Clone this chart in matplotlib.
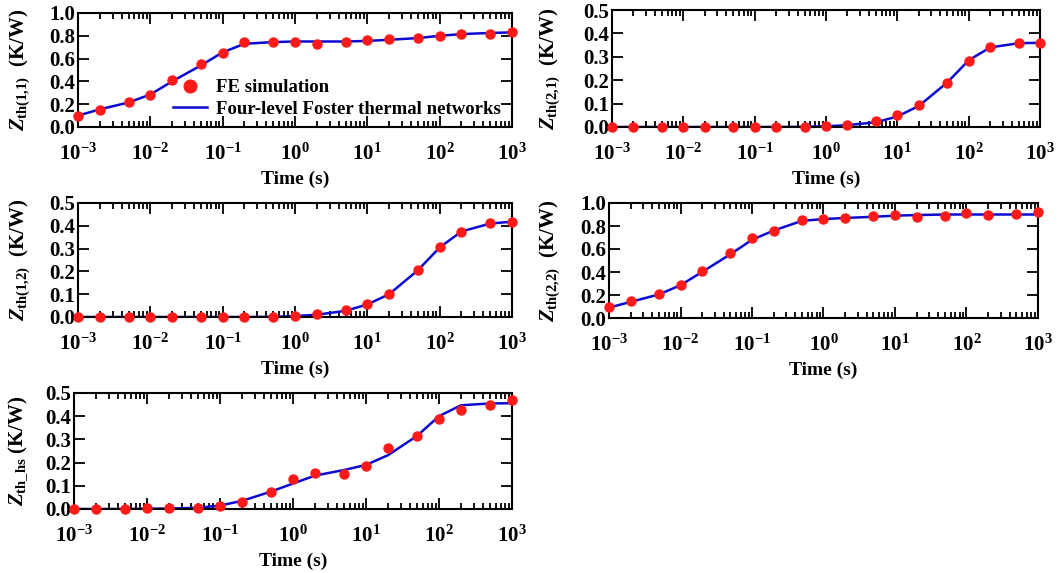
import numpy as np
import matplotlib
matplotlib.use('Agg')
import matplotlib.pyplot as plt
import matplotlib.transforms as mtransforms
from matplotlib.ticker import FixedLocator, MultipleLocator, NullFormatter, LogFormatterSciNotation

matplotlib.rcParams['font.family'] = 'Liberation Serif'
matplotlib.rcParams['font.weight'] = 'bold'
matplotlib.rcParams['mathtext.fontset'] = 'custom'
matplotlib.rcParams['mathtext.rm'] = 'Liberation Serif:bold'
matplotlib.rcParams['mathtext.it'] = 'Liberation Serif:italic:bold'
matplotlib.rcParams['mathtext.bf'] = 'Liberation Serif:bold'

# sample times (s)
time = [1e-3, 2e-3, 5e-3, 1e-2, 2e-2, 5e-2, 0.1, 0.2, 0.5, 1, 2, 5, 10, 20, 50, 100, 200, 500, 1000]

# FE simulation points
fe_11 = [0.10, 0.153, 0.22, 0.28, 0.41, 0.55, 0.65, 0.75, 0.75, 0.75, 0.73, 0.745, 0.76, 0.77, 0.785, 0.80, 0.82, 0.82, 0.83]
fe_21 = [0.0, 0.0, 0.0, 0.0, 0.0, 0.0, 0.0, 0.0, 0.0, 0.003, 0.01, 0.025, 0.05, 0.092, 0.19, 0.28, 0.34, 0.357, 0.358]
fe_12 = [0.0, 0.0, 0.0, 0.0, 0.0, 0.0, 0.0, 0.0, 0.0, 0.005, 0.012, 0.03, 0.055, 0.103, 0.206, 0.305, 0.375, 0.412, 0.416]
fe_22 = [0.096, 0.146, 0.207, 0.29, 0.41, 0.563, 0.70, 0.76, 0.85, 0.863, 0.866, 0.886, 0.90, 0.877, 0.888, 0.912, 0.898, 0.904, 0.924]
fe_hs = [0.0, 0.0, 0.002, 0.003, 0.003, 0.006, 0.015, 0.029, 0.072, 0.13, 0.155, 0.15, 0.187, 0.263, 0.313, 0.39, 0.425, 0.45, 0.468]

# Foster network fit
fit_11 = [0.10, 0.155, 0.215, 0.285, 0.40, 0.54, 0.655, 0.73, 0.745, 0.75, 0.75, 0.75, 0.755, 0.765, 0.78, 0.80, 0.815, 0.825, 0.83]
fit_21 = [0.0, 0.0, 0.0, 0.0, 0.0, 0.0, 0.0, 0.0, 0.001, 0.003, 0.008, 0.02, 0.045, 0.09, 0.19, 0.285, 0.34, 0.358, 0.36]
fit_12 = [0.0, 0.0, 0.0, 0.0, 0.0, 0.0, 0.0, 0.0, 0.001, 0.004, 0.01, 0.027, 0.055, 0.10, 0.205, 0.305, 0.375, 0.41, 0.418]
fit_22 = [0.09, 0.14, 0.205, 0.285, 0.40, 0.555, 0.68, 0.76, 0.845, 0.86, 0.87, 0.88, 0.89, 0.895, 0.90, 0.90, 0.90, 0.90, 0.90]
fit_hs = [0.0, 0.0, 0.0, 0.001, 0.002, 0.005, 0.015, 0.035, 0.075, 0.11, 0.144, 0.168, 0.19, 0.232, 0.315, 0.40, 0.447, 0.455, 0.456]

decades = [1e-3, 1e-2, 1e-1, 1e0, 1e1, 1e2, 1e3]

red = '#ff1a1a'
blue = '#0a0ad2'

fig = plt.figure(figsize=(10.64, 5.73), dpi=100)
W, H = 1064., 573.

def add_ax(left, right, top, bottom):
  return fig.add_axes([left/W, 1 - bottom/H, (right-left)/W, (bottom-top)/H])

# axes box (pixels), y-label right edge (pixels)
panels = [
  ( add_ax(78, 512, 13, 127),  32, fe_11, fit_11, 1.0, 0.2, r'$Z_{\mathrm{th(1{,}1)}}$  (K/W)' ),
  ( add_ax(612, 1040, 10, 127), 562, fe_21, fit_21, 0.5, 0.1, r'$Z_{\mathrm{th(2{,}1)}}$  (K/W)' ),
  ( add_ax(78, 512, 203, 317), 32, fe_12, fit_12, 0.5, 0.1, r'$Z_{\mathrm{th(1{,}2)}}$  (K/W)' ),
  ( add_ax(609, 1038, 203, 318), 562, fe_22, fit_22, 1.0, 0.2, r'$Z_{\mathrm{th(2{,}2)}}$  (K/W)' ),
  ( add_ax(74, 512, 393, 509), 29, fe_hs, fit_hs, 0.5, 0.1, r'$Z_{\mathrm{th\_hs}}$ (K/W)' ),
]

minor_ticks = [d*k for d in decades[:-1] for k in range(2, 10)]

for ax, lab_x, fe, fit, ymax, ystep, ylabel in panels:
  ax.plot(time, fit, color=blue, lw=1.8, zorder=2, label='Four-level Foster thermal networks')
  ax.plot(time, fe, 'o', color=red, ms=6.5, mec=red, zorder=3, clip_on=False, label='FE simulation')
  ax.set_xscale('log')
  ax.set_xlim(1e-3, 1e3)
  ax.set_ylim(0, ymax)
  ax.yaxis.set_major_locator(MultipleLocator(ystep))
  ax.yaxis.set_major_formatter(matplotlib.ticker.FormatStrFormatter('%.1f'))
  ax.xaxis.set_major_locator(FixedLocator(decades))
  ax.xaxis.set_major_formatter(LogFormatterSciNotation())
  ax.xaxis.set_minor_locator(FixedLocator(minor_ticks))
  ax.xaxis.set_minor_formatter(NullFormatter())
  ax.tick_params(axis='both', which='both', direction='in', top=True, right=True, labelsize=15, width=1.3)
  ax.tick_params(axis='y', which='major', length=8, pad=2)
  ax.tick_params(axis='x', which='major', length=8, pad=12)
  ax.tick_params(axis='x', which='minor', length=4)
  for lab in ax.get_xticklabels() + ax.get_yticklabels():
    lab.set_fontweight('bold')
  ax.set_xlabel('Time (s)', fontsize=14, fontweight='bold', labelpad=4)
  ax.set_ylabel(ylabel, fontsize=15, fontweight='bold')
  trans = mtransforms.blended_transform_factory(fig.transFigure, ax.transAxes)
  ax.yaxis.set_label_coords(lab_x/W, 0.5, transform=trans)
  [sp.set_linewidth(1.5) for sp in ax.spines.values()]

ax0 = panels[0][0]
h, l = ax0.get_legend_handles_labels()
leg = ax0.legend(h[::-1], l[::-1], loc='lower right', bbox_to_anchor=(1.0, -0.02), frameon=False,
                 prop={'size': 13.5, 'weight': 'bold'}, handlelength=1.8, markerscale=1.4,
                 borderaxespad=0.2, labelspacing=0.25, handletextpad=0.5)

fig.savefig('out.png', dpi=100)
